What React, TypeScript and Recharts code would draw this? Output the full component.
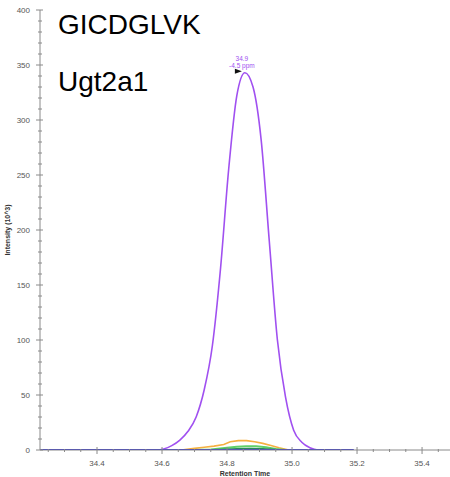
import React from "react";
import { LineChart, Line, XAxis, YAxis, ReferenceDot, Label } from "recharts";

const purpleTimes = [34.58, 34.605, 34.63, 34.655, 34.68, 34.705, 34.73, 34.755, 34.78, 34.805, 34.83, 34.855, 34.88, 34.905, 34.93, 34.955, 34.98, 35.005, 35.03, 35.055, 35.08, 35.1];
const purpleValues = [0, 1, 4, 9, 17, 30, 55, 95, 165, 255, 322, 343, 330, 282, 190, 100, 48, 18, 7, 2, 0, 0];

const orangeTimes = [34.66, 34.7, 34.73, 34.76, 34.79, 34.81, 34.835, 34.86, 34.885, 34.91, 34.935, 34.96, 34.99];
const orangeValues = [0, 1.5, 2.5, 3.5, 5, 7.5, 8.5, 8.5, 7.5, 6, 4, 2, 0];

const greenTimes = [34.7, 34.75, 34.8, 34.83, 34.86, 34.89, 34.92, 34.95, 34.98];
const greenValues = [0, 0.5, 2, 3, 3.5, 3.5, 2.5, 1, 0];

const tealTimes = [34.72, 34.78, 34.83, 34.87, 34.91, 34.95, 34.98];
const tealValues = [0, 0.6, 1.2, 1.5, 1.2, 0.5, 0];

const blueTimes = [34.2246, 34.4, 34.6, 34.8, 35.0, 35.19];
const blueValues = [0, 0, 0, 0, 0, 0];

const peakTime = 34.855;
const peakValue = 343;
const peakLabel = ["34.9", "-4.5 ppm"];

const xMajorTicks = [34.4, 34.6, 34.8, 35.0, 35.2, 35.4];
const xMinorTicks = [34.25, 34.3, 34.35, 34.45, 34.5, 34.55, 34.65, 34.7, 34.75, 34.85, 34.9, 34.95, 35.05, 35.1, 35.15, 35.25, 35.3, 35.35, 35.45];
const yMajorTicks = [0, 50, 100, 150, 200, 250, 300, 350, 400];
const yMinorTicks = [10, 20, 30, 40, 60, 70, 80, 90, 110, 120, 130, 140, 160, 170, 180, 190, 210, 220, 230, 240, 260, 270, 280, 290, 310, 320, 330, 340, 360, 370, 380, 390];

const titleLines = ["GICDGLVK", "Ugt2a1"];

const toPoints = (t: number[], v: number[]) => t.map((x, i) => ({ t: x, v: v[i] }));

const FONT = "'Liberation Sans', Arial, sans-serif";
const AXIS = "#8a8a8a";

const xTicks = [...xMajorTicks, ...xMinorTicks].sort((a, b) => a - b);
const yTicks = [...yMajorTicks, ...yMinorTicks].sort((a, b) => a - b);

const isMajorX = (v: number) => xMajorTicks.some((m) => Math.abs(m - v) < 1e-6);
const isMajorY = (v: number) => yMajorTicks.includes(v);

const XTick = (props: any) => {
  const { x, y, payload } = props;
  const major = isMajorX(payload.value);
  return (
    <g>
      <line x1={x} x2={x} y1={major ? y - 3 : y - 1} y2={major ? y + 4 : y + 2} stroke={AXIS} strokeWidth={1} />
      {major && (
        <text x={x} y={y + 16} textAnchor="middle" fontSize={8} fill="#555" fontFamily={FONT}>
          {payload.value.toFixed(1)}
        </text>
      )}
    </g>
  );
};

const YTick = (props: any) => {
  const { x, y, payload } = props;
  const major = isMajorY(payload.value);
  return (
    <g>
      <line x1={major ? x - 4 : x - 2} x2={major ? x + 3 : x + 2} y1={y} y2={y} stroke={AXIS} strokeWidth={1} />
      {major && (
        <text x={x - 10} y={y + 3} textAnchor="end" fontSize={8} fill="#555" fontFamily={FONT}>
          {payload.value}
        </text>
      )}
    </g>
  );
};

const PeakMark = (props: any) => {
  const { cx, cy } = props;
  return (
    <g>
      <polygon points={`${cx - 10},${cy - 4} ${cx - 3},${cy - 1.5} ${cx - 10},${cy + 1}`} fill="#111" />
      <text x={cx - 3} y={cy - 12} textAnchor="middle" fontSize={6.5} fill="#a050f0" fontFamily={FONT}>
        {peakLabel[0]}
      </text>
      <text x={cx - 3} y={cy - 5} textAnchor="middle" fontSize={6.5} fill="#a050f0" fontFamily={FONT}>
        {peakLabel[1]}
      </text>
    </g>
  );
};

export default function App() {
  return (
    <div style={{ position: "absolute", left: 0, top: 0, width: 450, height: 477, background: "#fff" }}>
      <LineChart width={450} height={477} margin={{ top: 10, right: 0, bottom: 0, left: 0 }}>
        <XAxis
          type="number"
          dataKey="t"
          domain={[34.2246, 35.486]}
          allowDataOverflow
          ticks={xTicks}
          interval={0}
          tick={<XTick />}
          tickLine={false}
          tickSize={0}
          tickMargin={0}
          height={27}
          axisLine={{ stroke: AXIS }}
        >
          <Label
            content={(p: any) => {
              const vb = p.viewBox;
              return (
                <text x={vb.x + vb.width / 2} y={476} textAnchor="middle" fontSize={7} fontWeight="bold" fill="#333" fontFamily={FONT}>
                  Retention Time
                </text>
              );
            }}
          />
        </XAxis>
        <YAxis
          type="number"
          domain={[0, 400]}
          allowDataOverflow
          ticks={yTicks}
          interval={0}
          tick={<YTick />}
          tickLine={false}
          tickSize={0}
          tickMargin={0}
          width={40}
          axisLine={{ stroke: AXIS }}
        >
          <Label
            content={(p: any) => {
              const vb = p.viewBox;
              const cy = vb.y + vb.height / 2;
              return (
                <text x={10} y={cy} transform={`rotate(-90 10 ${cy})`} textAnchor="middle" fontSize={7} fontWeight="bold" fill="#333" fontFamily={FONT}>
                  Intensity (10^3)
                </text>
              );
            }}
          />
        </YAxis>
        <Line data={toPoints(purpleTimes, purpleValues)} dataKey="v" type="monotone" stroke="#a050f0" strokeWidth={1.6} dot={false} isAnimationActive={false} />
        <Line data={toPoints(orangeTimes, orangeValues)} dataKey="v" type="linear" stroke="#f5b041" strokeWidth={1.6} dot={false} isAnimationActive={false} />
        <Line data={toPoints(greenTimes, greenValues)} dataKey="v" type="linear" stroke="#5fd068" strokeWidth={2} dot={false} isAnimationActive={false} />
        <Line data={toPoints(tealTimes, tealValues)} dataKey="v" type="linear" stroke="#2a8a5a" strokeWidth={1.2} dot={false} isAnimationActive={false} />
        <Line data={toPoints(blueTimes, blueValues)} dataKey="v" type="linear" stroke="#2a2ad0" strokeWidth={2} dot={false} isAnimationActive={false} />
        <ReferenceDot x={peakTime} y={peakValue} r={0} shape={<PeakMark />} isFront />
      </LineChart>
      {titleLines.map((t, i) => (
        <div
          key={t}
          style={{
            position: "absolute",
            left: 58,
            top: i === 0 ? 9 : 66,
            fontFamily: FONT,
            fontSize: 28,
            lineHeight: "32px",
            color: "#000",
          }}
        >
          {t}
        </div>
      ))}
    </div>
  );
}
